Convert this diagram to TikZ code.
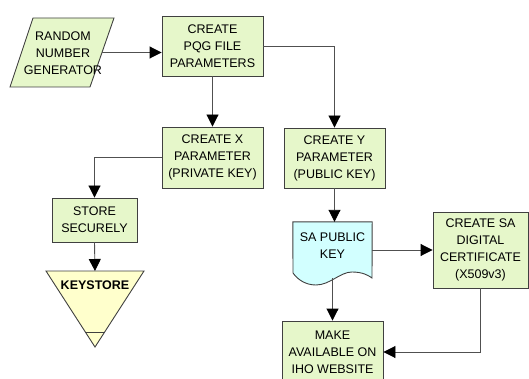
\documentclass[tikz,border=0pt]{standalone}
\usepackage{fontspec}
\setmainfont{Liberation Sans}
\usetikzlibrary{arrows.meta}
\definecolor{boxgreen}{RGB}{230,247,202}
\definecolor{ksyellow}{RGB}{255,255,204}
\definecolor{doccyan}{RGB}{210,255,255}
\definecolor{edgegrey}{RGB}{64,64,64}
\definecolor{linegrey}{RGB}{80,80,80}
\tikzset{
  procbox/.style={draw=edgegrey, line width=0.9pt, fill=boxgreen, align=center,
    inner sep=0pt, font=\fontsize{12.5}{17}\selectfont},
  txt/.style={align=center, inner sep=0pt, font=\fontsize{12.5}{17}\selectfont},
  shapeline/.style={draw=edgegrey, line width=0.9pt},
  arr/.style={draw=linegrey, line width=0.9pt, -{Triangle[length=12pt,width=12pt,color=black]}},
}
\begin{document}
\begin{tikzpicture}[x=1pt,y=-1pt]
\useasboundingbox (0,0) rectangle (529,379);
% parallelogram
\draw[shapeline, fill=boxgreen] (33,18) -- (114,18) -- (90,87) -- (10,87) -- cycle;
\node[txt] (rng) at (63,53) {RANDOM\\NUMBER\\GENERATOR};
\coordinate (rngout) at (102,52.5);
% process boxes
\node[procbox, minimum width=101pt, minimum height=60pt] (pqg) at (212.5,46) {CREATE\\PQG FILE\\PARAMETERS};
\node[procbox, minimum width=101pt, minimum height=61pt] (xp) at (212.5,157.5) {CREATE X\\PARAMETER\\(PRIVATE KEY)};
\node[procbox, minimum width=101pt, minimum height=60pt] (yp) at (334.5,158) {CREATE Y\\PARAMETER\\(PUBLIC KEY)};
\node[procbox, minimum width=85pt, minimum height=44pt] (store) at (94.5,220) {STORE\\SECURELY};
\node[procbox, minimum width=95pt, minimum height=76pt] (cert) at (480.5,250) {CREATE SA\\DIGITAL\\CERTIFICATE\\(X509v3)};
\node[procbox, minimum width=101pt, minimum height=62pt] (make) at (332.5,352) {MAKE\\AVAILABLE ON\\IHO WEBSITE};
% keystore triangle
\draw[shapeline, fill=ksyellow] (46,271) -- (144,271) -- (95,347) -- cycle;
\draw[shapeline] (85.3,332) -- (104.7,332);
\coordinate (kstop) at (95,271);
\node[txt, font=\bfseries\fontsize{12.5}{17}\selectfont] (ks) at (95,285) {KEYSTORE};
% document shape
\node[minimum width=79pt, minimum height=56pt, inner sep=0pt] (doc) at (332.5,250) {};
\draw[shapeline, fill=doccyan]
  (doc.north west) -- (doc.north east) -- (372,278)
  .. controls (368,275) and (362,272) .. (352,272)
  .. controls (340,272) and (330,285) .. (316,285)
  .. controls (306,285) and (298,280) .. (293,273) -- cycle;
\node[txt] (doctext) at (332.5,245.5) {SA PUBLIC\\KEY};
% connectors
\draw[arr] (rngout) -- (rngout -| pqg.west);
\draw[arr] (pqg.south) -- (xp.north);
\draw[arr] (pqg.east) -| (yp.north);
\draw[arr] (xp.west) -| (store.north);
\draw[arr] (store.south) -- (kstop);
\draw[arr] (yp.south) -- (yp.south |- doc.north);
\draw[arr] (doc.east) -- (cert.west);
\draw[arr] (doc.south) -- (make.north);
\draw[arr] (cert.south) |- (make.east);
\end{tikzpicture}
\end{document}
